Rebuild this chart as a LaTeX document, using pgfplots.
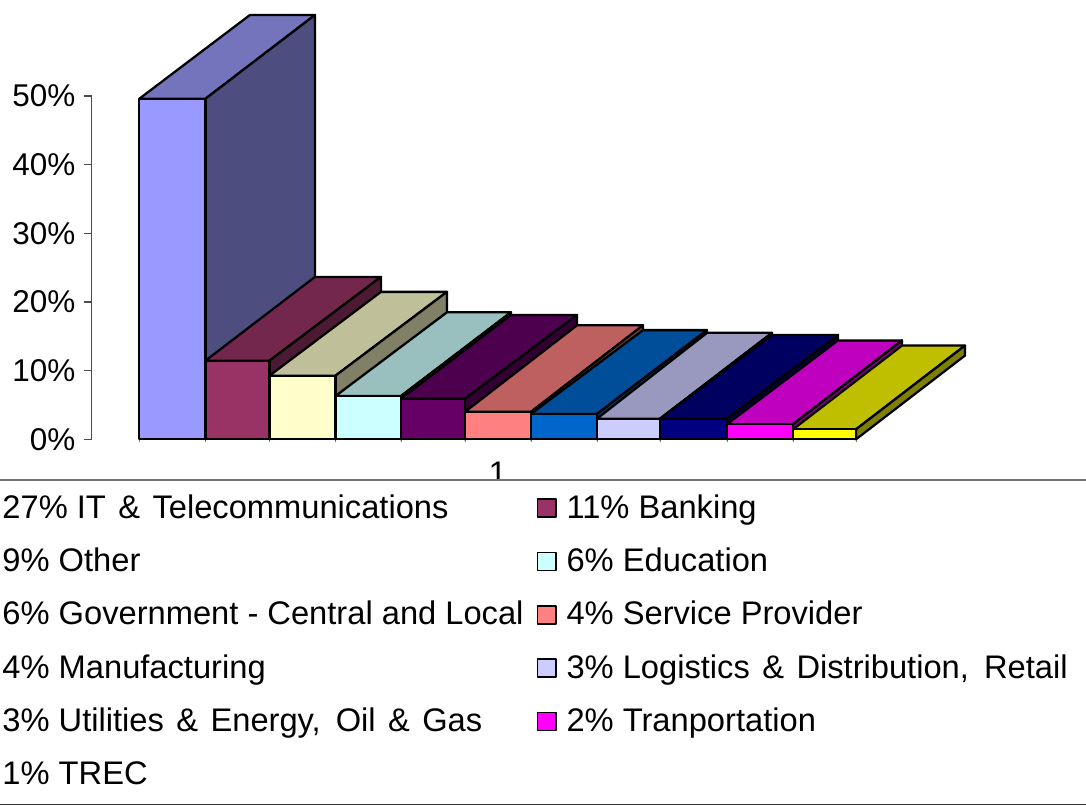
\documentclass[border=0pt]{standalone}
\usepackage{fontspec}
\setmainfont{Liberation Sans}
\usepackage{pgfplots}
\pgfplotsset{compat=1.18}
\definecolor{f0}{HTML}{9999FF}\definecolor{t0}{HTML}{7474BC}\definecolor{s0}{HTML}{4D4D80}
\definecolor{f1}{HTML}{993366}\definecolor{t1}{HTML}{74274D}\definecolor{s1}{HTML}{4D1A33}
\definecolor{f2}{HTML}{FFFFCC}\definecolor{t2}{HTML}{BFBF99}\definecolor{s2}{HTML}{808066}
\definecolor{f3}{HTML}{CCFFFF}\definecolor{t3}{HTML}{99BFBF}\definecolor{s3}{HTML}{668080}
\definecolor{f4}{HTML}{660066}\definecolor{t4}{HTML}{4D004D}\definecolor{s4}{HTML}{330033}
\definecolor{f5}{HTML}{FF8080}\definecolor{t5}{HTML}{BF6060}\definecolor{s5}{HTML}{804040}
\definecolor{f6}{HTML}{0066CC}\definecolor{t6}{HTML}{004D99}\definecolor{s6}{HTML}{003366}
\definecolor{f7}{HTML}{CCCCFF}\definecolor{t7}{HTML}{9999BF}\definecolor{s7}{HTML}{666680}
\definecolor{f8}{HTML}{000080}\definecolor{t8}{HTML}{000060}\definecolor{s8}{HTML}{000040}
\definecolor{f9}{HTML}{FF00FF}\definecolor{t9}{HTML}{BF00BF}\definecolor{s9}{HTML}{800080}
\definecolor{f10}{HTML}{FFFF00}\definecolor{t10}{HTML}{BFBF00}\definecolor{s10}{HTML}{808000}
\newcommand\A{\ \hskip2.5pt\&\ \hskip2.5pt}
\newcommand\C{{,}\ \hskip4.5pt}
\pgfplotsset{
  face/.style={fill=#1,draw=black,line width=1.7pt,line join=round,forget plot},
  front/.style={fill=#1,draw=black,line width=1.7pt,line join=round},
  noswatch/.style={legend image code/.code={}},
}
\begin{document}
\begin{tikzpicture}
\useasboundingbox (0,0) rectangle (814.5pt,604.5pt);
\begin{axis}[
  at={(68.625pt,275.03pt)},anchor=south west,
  x=0.75pt,y=5.1495pt,
  xmin=91.5,xmax=1086,ymin=0,ymax=50,
  clip=false,
  axis y line*=left,axis x line*=bottom,
  x axis line style={draw=none,-},
  y axis line style={draw=black!70,line width=0.9pt,-},
  ytick={0,10,20,30,40,50},
  yticklabels={0\%,10\%,20\%,30\%,40\%,50\%},
  xtick={497.7},xticklabels={1},
  minor xtick={139.3,205.5,269.5,335.5,401,465,531,597,660,727,793,856},
  tick align=outside,
  major tick length=5.6pt,
  minor tick length=2.2pt,
  y tick style={draw=black!70,line width=0.9pt},
  major x tick style={draw=none},
  minor x tick style={draw=black!50,line width=0.6pt},
  ticklabel style={font=\fontsize{23.6}{28}\selectfont},
  yticklabel style={xshift=-3pt},
  xticklabel style={yshift=-8pt,font=\fontsize{24.5}{28}\selectfont},
  legend cell align=left,
  legend image code/.code={\draw[line width=1.2pt,#1] (0pt,-10.4pt) rectangle (14pt,3pt);},
  legend columns=2,
  legend style={at={(axis cs:2.2,-5.93)},anchor=north west,draw=none,fill=white,inner sep=0pt,
    font=\fontsize{24.5}{28}\selectfont,
    row sep=5.5pt,
    nodes={inner sep=0pt,text height=28.5pt,text depth=6pt},
    /tikz/column 2/.style={column sep=9.85pt},
    /tikz/column 3/.style={column sep=7.2pt},
  },
]
% bar 0: 49.6
\addplot[face=t0] coordinates {(139.3,49.6)(205.5,49.6)(315,61.8)(250,61.8)(139.3,49.6)} --cycle;
\addplot[face=s0] coordinates {(205.5,0)(205.5,49.6)(315,61.8)(315,12.2)(205.5,0)} --cycle;
\addplot[front=f0,noswatch] coordinates {(139.3,0)(205.5,0)(205.5,49.6)(139.3,49.6)(139.3,0)} --cycle;
% bar 1: 11.45
\addplot[face=t1] coordinates {(205.5,11.45)(269.5,11.45)(381,23.65)(315,23.65)(205.5,11.45)} --cycle;
\addplot[face=s1] coordinates {(269.5,0)(269.5,11.45)(381,23.65)(381,12.2)(269.5,0)} --cycle;
\addplot[front=f1] coordinates {(205.5,0)(269.5,0)(269.5,11.45)(205.5,11.45)(205.5,0)} --cycle;
% bar 2: 9.27
\addplot[face=t2] coordinates {(269.5,9.27)(335.5,9.27)(447,21.47)(381,21.47)(269.5,9.27)} --cycle;
\addplot[face=s2] coordinates {(335.5,0)(335.5,9.27)(447,21.47)(447,12.2)(335.5,0)} --cycle;
\addplot[front=f2,noswatch] coordinates {(269.5,0)(335.5,0)(335.5,9.27)(269.5,9.27)(269.5,0)} --cycle;
% bar 3: 6.3
\addplot[face=t3] coordinates {(335.5,6.3)(401,6.3)(511,18.5)(447,18.5)(335.5,6.3)} --cycle;
\addplot[face=s3] coordinates {(401,0)(401,6.3)(511,18.5)(511,12.2)(401,0)} --cycle;
\addplot[front=f3] coordinates {(335.5,0)(401,0)(401,6.3)(335.5,6.3)(335.5,0)} --cycle;
% bar 4: 5.9
\addplot[face=t4] coordinates {(401,5.9)(465,5.9)(577,18.1)(511,18.1)(401,5.9)} --cycle;
\addplot[face=s4] coordinates {(465,0)(465,5.9)(577,18.1)(577,12.2)(465,0)} --cycle;
\addplot[front=f4,noswatch] coordinates {(401,0)(465,0)(465,5.9)(401,5.9)(401,0)} --cycle;
% bar 5: 4.0
\addplot[face=t5] coordinates {(465,4)(531,4)(643,16.6)(577,16.6)(465,4)} --cycle;
\addplot[face=s5] coordinates {(531,0)(531,4)(643,16.6)(643,12.2)(531,0)} --cycle;
\addplot[front=f5] coordinates {(465,0)(531,0)(531,4)(465,4)(465,0)} --cycle;
% bar 6: 3.7
\addplot[face=t6] coordinates {(531,3.7)(597,3.7)(707,15.9)(643,15.9)(531,3.7)} --cycle;
\addplot[face=s6] coordinates {(597,0)(597,3.7)(707,15.9)(707,12.2)(597,0)} --cycle;
\addplot[front=f6,noswatch] coordinates {(531,0)(597,0)(597,3.7)(531,3.7)(531,0)} --cycle;
% bar 7: 3.0
\addplot[face=t7] coordinates {(597,3)(660,3)(772,15.5)(707,15.5)(597,3)} --cycle;
\addplot[face=s7] coordinates {(660,0)(660,3)(772,15.5)(772,12.2)(660,0)} --cycle;
\addplot[front=f7] coordinates {(597,0)(660,0)(660,3)(597,3)(597,0)} --cycle;
% bar 8: 3.0
\addplot[face=t8] coordinates {(660,3)(727,3)(838,15.2)(772,15.2)(660,3)} --cycle;
\addplot[face=s8] coordinates {(727,0)(727,3)(838,15.2)(838,12.2)(727,0)} --cycle;
\addplot[front=f8,noswatch] coordinates {(660,0)(727,0)(727,3)(660,3)(660,0)} --cycle;
% bar 9: 2.2
\addplot[face=t9] coordinates {(727,2.2)(793,2.2)(902,14.4)(838,14.4)(727,2.2)} --cycle;
\addplot[face=s9] coordinates {(793,0)(793,2.2)(902,14.4)(902,12.2)(793,0)} --cycle;
\addplot[front=f9] coordinates {(727,0)(793,0)(793,2.2)(727,2.2)(727,0)} --cycle;
% bar 10: 1.45
\addplot[face=t10] coordinates {(793,1.45)(856,1.45)(965,13.65)(902,13.65)(793,1.45)} --cycle;
\addplot[face=s10] coordinates {(856,0)(856,1.45)(965,13.65)(965,12.2)(856,0)} --cycle;
\addplot[front=f10,noswatch] coordinates {(793,0)(856,0)(856,1.45)(793,1.45)(793,0)} --cycle;
\legend{27\% IT\A Telecommunications,11\% Banking,9\% Other,6\% Education,6\% Government - Central and Local,4\% Service Provider,4\% Manufacturing,3\% Logistics\A Distribution\C Retail,3\% Utilities\A Energy\C Oil\A Gas,2\% Tranportation,1\% TREC}
\end{axis}
\draw[black!55,line width=1.1pt] (0pt,244.5pt) -- (814.5pt,244.5pt);
\draw[black!80,line width=1.1pt] (0pt,1.2pt) -- (814.5pt,1.2pt);
\end{tikzpicture}
\end{document}
